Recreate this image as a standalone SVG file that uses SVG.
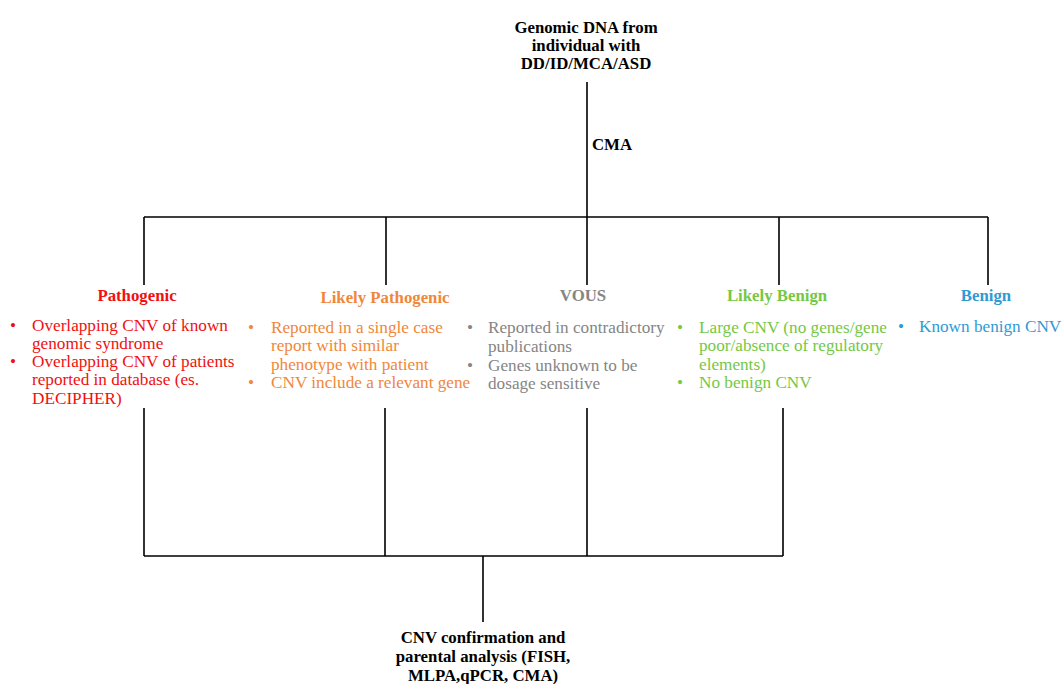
<svg xmlns="http://www.w3.org/2000/svg" width="1062" height="684" viewBox="0 0 1062 684">
<style>
text{font-family:"Liberation Serif","Times New Roman",serif;font-size:17.2px}
.h{font-weight:bold;text-anchor:middle;font-size:16.8px}
.k{fill:#000}
.red{fill:#f01010}
.org{fill:#f0873a}
.gry{fill:#858585}
.grn{fill:#74c845}
.blu{fill:#2f9ad4}
.ln{stroke:#000;stroke-width:1.6;fill:none}
</style>
<rect width="1062" height="684" fill="#fff"/>
<g id="connectors">
<path class="ln" d="M587 82V217M144 217H988M144 217V285M386 217V285M587 217V285M779 217V285M988 217V285"/>
<path class="ln" d="M144 408V556M385 408V556M587 408V556M783 408V556M144 556H783M483 556V622"/>
</g>
<g id="source">
<text class="h k" x="586" y="33">Genomic DNA from</text>
<text class="h k" x="586" y="51">individual with</text>
<text class="h k" x="586" y="69">DD/ID/MCA/ASD</text>
</g>
<g id="cma-label"><text class="h k" x="612" y="150">CMA</text></g>
<g id="pathogenic">
<text class="h red" x="137" y="301">Pathogenic</text>
<text class="red" x="10" y="331">•</text>
<text class="red" x="32" y="331">Overlapping CNV of known</text>
<text class="red" x="32" y="349">genomic syndrome</text>
<text class="red" x="10" y="367">•</text>
<text class="red" x="32" y="367">Overlapping CNV of patients</text>
<text class="red" x="32" y="385">reported in database (es.</text>
<text class="red" x="32" y="404">DECIPHER)</text>
</g>
<g id="likely-pathogenic">
<text class="h org" x="385" y="303">Likely Pathogenic</text>
<text class="org" x="248" y="333">•</text>
<text class="org" x="271" y="333">Reported in a single case</text>
<text class="org" x="271" y="351">report with similar</text>
<text class="org" x="271" y="370">phenotype with patient</text>
<text class="org" x="248" y="388">•</text>
<text class="org" x="271" y="388">CNV include a relevant gene</text>
</g>
<g id="vous">
<text class="h gry" x="583" y="301">VOUS</text>
<text class="gry" x="467" y="333">•</text>
<text class="gry" x="488" y="333">Reported in contradictory</text>
<text class="gry" x="488" y="352">publications</text>
<text class="gry" x="467" y="371">•</text>
<text class="gry" x="488" y="371">Genes unknown to be</text>
<text class="gry" x="488" y="389">dosage sensitive</text>
</g>
<g id="likely-benign">
<text class="h grn" x="777" y="301">Likely Benign</text>
<text class="grn" x="677" y="333">•</text>
<text class="grn" x="699" y="333">Large CNV (no genes/gene</text>
<text class="grn" x="699" y="351">poor/absence of regulatory</text>
<text class="grn" x="699" y="370">elements)</text>
<text class="grn" x="677" y="388">•</text>
<text class="grn" x="699" y="388">No benign CNV</text>
</g>
<g id="benign">
<text class="h blu" x="986" y="301">Benign</text>
<text class="blu" x="898" y="332">•</text>
<text class="blu" x="919" y="332">Known benign CNV</text>
</g>
<g id="confirmation">
<text class="h k" x="483" y="643">CNV confirmation and</text>
<text class="h k" x="483" y="662">parental analysis (FISH,</text>
<text class="h k" x="483" y="681">MLPA,qPCR, CMA)</text>
</g>
</svg>
